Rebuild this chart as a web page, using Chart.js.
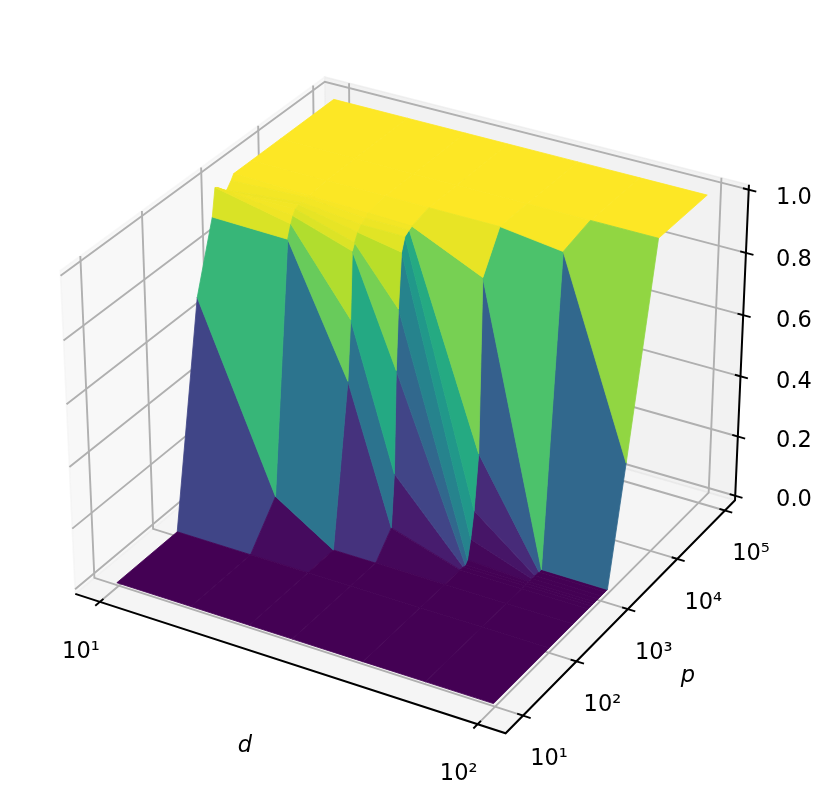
<!DOCTYPE html>
<html>
<head>
<meta charset="utf-8">
<title>surface</title>
<script src="https://cdn.jsdelivr.net/npm/chart.js@4"></script>
<style>
  html, body { margin: 0; background: #fff; }
  canvas { display: block; }
</style>
</head>
<body>
<canvas id="chartSurface" width="829" height="808"></canvas>
<script>
// values
const D_VALUES = [10, 16, 23, 30, 46, 67, 100];
const P_VALUES = [9.3, 100, 287, 560, 640, 700, 770, 880, 1010, 1210, 1350, 2750, 9000, 85000];

// z per d column, one entry per P_VALUES
const Z_D10 = [0, 0, 0.7, 0.915, 1, 0.995, 0.985, 0.97, 0.965, 0.985, 1, 1, 1, 1];
const Z_D16 = [0, 0, 0.12, 0.91, 0.95, 0.97, 0.985, 0.99, 0.99, 0.995, 0.995, 1, 1, 1];
const Z_D23 = [0, 0, 0, 0.51, 0.7, 0.91, 0.93, 0.955, 0.97, 0.98, 0.99, 1, 1, 1];
const Z_D30 = [0, 0, 0, 0.07, 0.24, 0.57, 0.76, 0.93, 0.97, 0.98, 0.985, 1, 1, 1];
const Z_D46 = [0, 0, 0, 0, 0, 0, 0.01, 0.07, 0.155, 0.33, 0.885, 1, 1, 1];
const Z_D67 = [0, 0, 0, 0, 0, 0, 0, 0, 0, 0, 0, 0.975, 1, 1];
const Z_D100 = [0, 0, 0, 0, 0, 0, 0, 0, 0, 0, 0, 0.365, 1, 1];
const Z_COLUMNS = [Z_D10, Z_D16, Z_D23, Z_D30, Z_D46, Z_D67, Z_D100];

const D_TICKS = [10, 100];
const D_TICK_LABELS = ["10¹", "10²"];
const P_TICKS = [10, 100, 1000, 10000, 100000];
const P_TICK_LABELS = ["10¹", "10²", "10³", "10⁴", "10⁵"];
const Z_TICKS = [0, 0.2, 0.4, 0.6, 0.8, 1];
const Z_TICK_LABELS = ["0.0", "0.2", "0.4", "0.6", "0.8", "1.0"];

const VIRIDIS = ["#440154", "#482475", "#414487", "#355f8d", "#2a788e", "#21918c", "#22a884", "#44bf70", "#7ad151", "#bddf26", "#fde725"];

const GRID_COLOR = "#b0b0b0";
const FONT = "'DejaVu Sans', sans-serif";

// box coords: mplot3d view, elev 30 azim -60, dist 10
const ASPECT = [1.1429, 1.1429, 0.8571];
const W = [0.433, -0.75, 0.5];
const U = [0.866, 0.5, 0];
const V = [-0.25, 0.433, 0.866];

const dot = (a, b) => a[0] * b[0] + a[1] * b[1] + a[2] * b[2];

function project(u, v, w) {
  const q = [(u - 0.5) * ASPECT[0], (v - 0.5) * ASPECT[1], (w - 0.5) * ASPECT[2]];
  const depth = 10 - dot(q, W);
  return { x: dot(q, U) / depth, y: dot(q, V) / depth, depth };
}

const boxU = (d) => 0.06 + 0.878 * (Math.log10(d) - 1);
const boxV = (p) => 0.07 + 0.2206 * (Math.log10(p) - 1);
const boxW = (z) => 0.015 + 0.97 * z;

function viridis(t) {
  const pos = Math.min(Math.max(t, 0), 1) * (VIRIDIS.length - 1);
  const i = Math.min(Math.floor(pos), VIRIDIS.length - 2);
  const f = pos - i;
  const rgb = (h, k) => parseInt(h.substr(1 + k * 2, 2), 16);
  const ch = [0, 1, 2].map((k) => Math.round(rgb(VIRIDIS[i], k) * (1 - f) + rgb(VIRIDIS[i + 1], k) * f));
  return `rgb(${ch[0]},${ch[1]},${ch[2]})`;
}

function polygon(corners, color, extra) {
  const pts = corners.map((c) => project(c[0], c[1], c[2]));
  return {
    data: pts.concat(pts[0]).map((p) => ({ x: p.x, y: p.y })),
    showLine: true,
    fill: "shape",
    backgroundColor: color,
    borderColor: color,
    borderWidth: 0,
    pointRadius: 0,
    tension: 0,
    ...extra,
  };
}

function polyline(corners, color, width) {
  return {
    data: corners.map((c) => {
      const p = project(c[0], c[1], c[2]);
      return { x: p.x, y: p.y };
    }),
    showLine: true,
    fill: false,
    borderColor: color,
    borderWidth: width,
    pointRadius: 0,
    tension: 0,
  };
}

function surfaceFaces() {
  const faces = [];
  for (let i = 0; i < D_VALUES.length - 1; i++) {
    for (let j = 0; j < P_VALUES.length - 1; j++) {
      const zs = [Z_COLUMNS[i][j], Z_COLUMNS[i + 1][j], Z_COLUMNS[i + 1][j + 1], Z_COLUMNS[i][j + 1]];
      const corners = [
        [boxU(D_VALUES[i]), boxV(P_VALUES[j]), boxW(zs[0])],
        [boxU(D_VALUES[i + 1]), boxV(P_VALUES[j]), boxW(zs[1])],
        [boxU(D_VALUES[i + 1]), boxV(P_VALUES[j + 1]), boxW(zs[2])],
        [boxU(D_VALUES[i]), boxV(P_VALUES[j + 1]), boxW(zs[3])],
      ];
      const mean = (zs[0] + zs[1] + zs[2] + zs[3]) / 4;
      const depth = corners.reduce((s, c) => s + project(c[0], c[1], c[2]).depth, 0) / 4;
      faces.push({ depth, ds: polygon(corners, viridis(mean), { borderWidth: 0.8 }) });
    }
  }
  // nearest first: chart.js paints dataset 0 last
  return faces.sort((a, b) => a.depth - b.depth).map((f) => f.ds);
}

function gridLines() {
  const out = [];
  D_TICKS.forEach((d) => {
    const u = boxU(d);
    out.push(polyline([[u, 0, 0], [u, 1, 0], [u, 1, 1]], GRID_COLOR, 1.9));
  });
  P_TICKS.forEach((p) => {
    const v = boxV(p);
    out.push(polyline([[1, v, 0], [0, v, 0], [0, v, 1]], GRID_COLOR, 1.9));
  });
  Z_TICKS.forEach((z) => {
    const w = boxW(z);
    out.push(polyline([[0, 0, w], [0, 1, w], [1, 1, w]], GRID_COLOR, 1.9));
  });
  return out;
}

function axisLines() {
  const out = [polyline([[0, 0, 0], [1, 0, 0], [1, 1, 0], [1, 1, 1]], "#000", 2)];
  D_TICKS.forEach((d) => out.push(polyline([[boxU(d), -0.017, 0], [boxU(d), 0.013, 0]], "#000", 1.9)));
  P_TICKS.forEach((p) => out.push(polyline([[0.987, boxV(p), 0], [1.017, boxV(p), 0]], "#000", 1.9)));
  Z_TICKS.forEach((z) => out.push(polyline([[0.987, 1, boxW(z)], [1.017, 1, boxW(z)]], "#000", 1.9)));
  return out;
}

function panes() {
  const edge = { borderWidth: 1.6 };
  return [
    polygon([[0, 0, 0], [0, 1, 0], [0, 1, 1], [0, 0, 1]], "rgba(242,242,242,0.5)", edge),
    polygon([[0, 1, 0], [1, 1, 0], [1, 1, 1], [0, 1, 1]], "rgba(230,230,230,0.5)", edge),
    polygon([[0, 0, 0], [1, 0, 0], [1, 1, 0], [0, 1, 0]], "rgba(236,236,236,0.5)", edge),
  ];
}

const axisText = {
  id: "axisText",
  afterDraw(chart) {
    const { ctx, scales } = chart;
    const at = (c) => {
      const p = project(c[0], c[1], c[2]);
      return [scales.x.getPixelForValue(p.x), scales.y.getPixelForValue(p.y)];
    };
    ctx.save();
    ctx.fillStyle = "#000";
    ctx.textAlign = "center";
    ctx.textBaseline = "middle";
    ctx.font = `22.5px ${FONT}`;
    D_TICKS.forEach((d, i) => {
      const [x, y] = at([boxU(d), 0, 0]);
      ctx.fillText(D_TICK_LABELS[i], x - 19, y + 50);
    });
    P_TICKS.forEach((p, i) => {
      const [x, y] = at([1, boxV(p), 0]);
      ctx.fillText(P_TICK_LABELS[i], x + 26, y + 44);
    });
    Z_TICKS.forEach((z, i) => {
      const y = at([1, 1, boxW(z)])[1];
      ctx.fillText(Z_TICK_LABELS[i], 794, y + 4 + 4 * z);
    });
    ctx.font = `italic 22.5px ${FONT}`;
    ctx.fillText("d", 245, 746);
    ctx.fillText("p", 688, 676);
    ctx.restore();
  },
};

new Chart(document.getElementById("chartSurface"), {
  type: "scatter",
  data: { datasets: [...axisLines(), ...surfaceFaces(), ...gridLines(), ...panes()] },
  options: {
    responsive: false,
    animation: false,
    layout: { padding: 0 },
    plugins: { legend: { display: false }, tooltip: { enabled: false } },
    // view plane of the projection, sized so the box lands where it does in the figure
    scales: {
      x: { type: "linear", display: false, min: -411 / 4315, max: 418 / 4315 },
      y: { type: "linear", display: false, min: -418 / 4300, max: 390 / 4300 },
    },
  },
  plugins: [axisText],
});
</script>
</body>
</html>
